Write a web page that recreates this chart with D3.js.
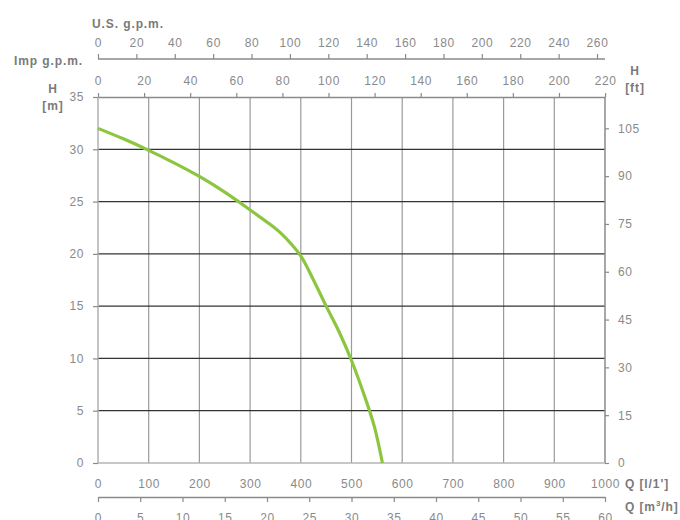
<!DOCTYPE html>
<html><head><meta charset="utf-8">
<script src="https://cdn.jsdelivr.net/npm/d3@7"></script>
<style>
body{margin:0;background:#fff}
svg text{font-family:"Liberation Sans",Arial,sans-serif}
</style></head><body>
<svg id="c" width="680" height="520"></svg>
<script>
// data: flow Q [l/min] vs head H [m]
const flowLpm = [0, 50, 100, 150, 200, 250, 300, 340, 360, 380, 400, 425, 450, 475, 500, 525, 545, 561];
const headM   = [32.0, 31.0, 29.9, 28.7, 27.4, 25.9, 24.2, 22.8, 22.0, 21.0, 19.8, 17.5, 15.0, 12.6, 9.8, 6.5, 3.5, 0];
const lpmTicks = [0,100,200,300,400,500,600,700,800,900,1000];
const m3hTicks = [0,5,10,15,20,25,30,35,40,45,50,55,60];
const usTicks = [0,20,40,60,80,100,120,140,160,180,200,220,240,260];
const impTicks = [0,20,40,60,80,100,120,140,160,180,200,220];
const hmTicks = [0,5,10,15,20,25,30,35];
const hftTicks = [0,15,30,45,60,75,90,105];

const L=98, R=605, T=97, B=463;
const svg = d3.select("#c");
const x = d3.scaleLinear([0,1000],[L,R]);
const y = d3.scaleLinear([0,35],[B,T]);
const xUS = d3.scaleLinear([0,1000/3.785411784],[L,R]);
const xImp = d3.scaleLinear([0,1000/4.54609],[L,R]);
const xM3 = d3.scaleLinear([0,60],[L,R]);
const yFt = d3.scaleLinear([0,35/0.3048],[B,T]);
const fmt = d3.format("d");

const tickCol="#8a8a8a", titleCol="#7a7a7a";

// grid
svg.append("g").selectAll("line").data(lpmTicks.slice(1,-1)).join("line")
  .attr("x1",d=>x(d)).attr("x2",d=>x(d)).attr("y1",T).attr("y2",B)
  .attr("stroke","#9a9a9a").attr("stroke-width",1.2);
svg.append("g").selectAll("line").data(hmTicks.slice(1,-1)).join("line")
  .attr("x1",L).attr("x2",R).attr("y1",d=>y(d)).attr("y2",d=>y(d))
  .attr("stroke","#333").attr("stroke-width",1.2);
// frame
svg.append("line").attr("x1",L).attr("x2",L).attr("y1",T).attr("y2",B).attr("stroke","#b0b0b0").attr("stroke-width",1.5);
svg.append("line").attr("x1",R).attr("x2",R).attr("y1",T).attr("y2",B).attr("stroke","#8a8a8a").attr("stroke-width",1.5);
svg.append("line").attr("x1",L).attr("x2",R).attr("y1",B).attr("y2",B).attr("stroke","#b5b5b5").attr("stroke-width",1.5);

function style(g,showDomain){
  g.selectAll(".domain").attr("stroke", showDomain? "#8a8a8a":"none").attr("stroke-width",1.3);
  g.selectAll(".tick line").attr("stroke","#8a8a8a").attr("stroke-width",1.2);
  g.selectAll("text").attr("fill",tickCol).attr("font-size",12).attr("letter-spacing","0.6px")
    .attr("font-family",'"Liberation Sans",Arial,sans-serif');
}
// top axes
svg.append("g").attr("transform",`translate(0,${T})`)
  .call(d3.axisTop(xImp).tickValues(impTicks).tickFormat(fmt).tickSize(4).tickPadding(8).tickSizeOuter(0))
  .call(g=>style(g,true));
svg.append("g").attr("transform",`translate(0,59)`)
  .call(d3.axisTop(xUS).tickValues(usTicks).tickFormat(fmt).tickSize(5).tickPadding(7).tickSizeOuter(0))
  .call(g=>style(g,true)).call(g=>g.select(".domain").attr("d",`M${L},0H${R}`));
// left axis
svg.append("g").attr("transform",`translate(${L},0)`)
  .call(d3.axisLeft(y).tickValues(hmTicks).tickFormat(fmt).tickSize(5).tickPadding(9).tickSizeOuter(0))
  .call(g=>style(g,false));
// right axis
svg.append("g").attr("transform",`translate(${R},0)`)
  .call(d3.axisRight(yFt).tickValues(hftTicks).tickFormat(fmt).tickSize(4).tickPadding(9).tickSizeOuter(0))
  .call(g=>style(g,false));
// bottom axes
svg.append("g").attr("transform",`translate(0,${B})`)
  .call(d3.axisBottom(x).tickValues(lpmTicks).tickFormat(fmt).tickSize(0).tickPadding(16))
  .call(g=>style(g,false));
svg.append("g").attr("transform",`translate(0,497)`)
  .call(d3.axisBottom(xM3).tickValues(m3hTicks).tickFormat(fmt).tickSize(5).tickPadding(11).tickSizeOuter(0))
  .call(g=>style(g,true));

// curve
svg.append("path").datum(flowLpm.map((q,i)=>[q,headM[i]]))
  .attr("d",d3.line().x(d=>x(d[0])).y(d=>y(d[1])).curve(d3.curveCatmullRom.alpha(0.5)))
  .attr("fill","none").attr("stroke","#8cc63f").attr("stroke-width",3.2).attr("stroke-linecap","butt");

// titles
const tt=(t,xx,yy,anchor)=>svg.append("text").attr("x",xx).attr("y",yy).attr("text-anchor",anchor||"start")
  .attr("font-size",12).attr("font-weight","bold").attr("fill",titleCol).attr("letter-spacing","0.9px").text(t);
tt("U.S. g.p.m.",92,28);
tt("Imp g.p.m.",14,65);
tt("H",53,93,"middle");
tt("[m]",53,110,"middle");
tt("H",635,75,"middle");
tt("[ft]",635,92,"middle");
tt("Q [l/1']",625,488);
const q3 = svg.append("text").attr("x",625).attr("y",511).attr("font-size",12).attr("font-weight","bold")
  .attr("fill",titleCol).attr("letter-spacing","0.9px");
q3.append("tspan").text("Q [m");
q3.append("tspan").attr("dy",-5).attr("font-size",8).text("3");
q3.append("tspan").attr("dy",5).text("/h]");
</script></body></html>
